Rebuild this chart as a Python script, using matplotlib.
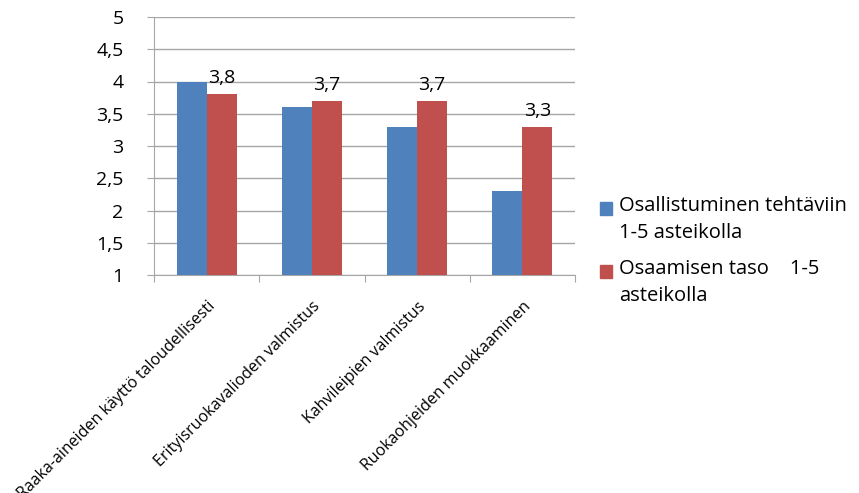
import matplotlib
matplotlib.use('Agg')
import matplotlib.pyplot as plt
import matplotlib.transforms as mtransforms
from matplotlib.patches import Rectangle
import numpy as np

# data
categories = ['Raaka-aineiden käyttö taloudellisesti',
              'Erityisruokavalioden valmistus',
              'Kahvileipien valmistus',
              'Ruokaohjeiden muokkaaminen']
osallistuminen = [4.0, 3.6, 3.3, 2.3]
osaaminen = [3.8, 3.7, 3.7, 3.3]
series_names = ['Osallistuminen tehtäviin\n1-5 asteikolla',
                'Osaamisen taso    1-5\nasteikolla']
yticks = [1, 1.5, 2, 2.5, 3, 3.5, 4, 4.5, 5]
ytick_labels = ['1', '1,5', '2', '2,5', '3', '3,5', '4', '4,5', '5']

blue = '#4F81BD'
red = '#C0504D'
grid_col = '#A6A6A6'

plt.rcParams['font.family'] = ['Open Sans', 'DejaVu Sans']

W, H = 859, 493
fig = plt.figure(figsize=(W / 100, H / 100), dpi=100)
ax = fig.add_axes([154 / W, 1 - 275 / H, (575 - 154) / W, (275 - 17) / H])

x = np.arange(len(categories))
w = 0.286
ax.bar(x - w / 2, np.array(osallistuminen) - 1, w, bottom=1, color=blue, zorder=3)
ax.bar(x + w / 2, np.array(osaaminen) - 1, w, bottom=1, color=red, zorder=3)

# data labels only on the second series
for xi, v in zip(x, osaaminen):
    ax.annotate(f'{v:.1f}'.replace('.', ','), (xi + w / 2, v), xytext=(0, 5),
                textcoords='offset points', ha='center', va='bottom', fontsize=14)

ax.set_xlim(-0.5, len(categories) - 0.5)
ax.set_ylim(1, 5)
ax.set_yticks(yticks)
ax.set_yticklabels(ytick_labels, fontsize=14)
ax.yaxis.grid(True, color=grid_col, linewidth=1, zorder=0)
ax.set_axisbelow(True)

ax.set_xticks(np.arange(len(categories) + 1) - 0.5)
ax.set_xticklabels([])
ax.set_xticks(x, minor=True)
ax.set_xticklabels(categories, minor=True, fontsize=11.5, rotation=45,
                   ha='right', va='center', rotation_mode='anchor')
ax.tick_params(axis='x', which='minor', length=0, pad=21)
ax.tick_params(axis='x', which='major', length=5, color=grid_col)
ax.tick_params(axis='y', length=5, color=grid_col, pad=17)
offset = mtransforms.ScaledTranslation(6 / 100, 0, fig.dpi_scale_trans)
for lbl in ax.get_xticklabels(minor=True):
    lbl.set_transform(lbl.get_transform() + offset)

for s in ['top', 'right']:
    ax.spines[s].set_visible(False)
for s in ['left', 'bottom']:
    ax.spines[s].set_color(grid_col)

# legend drawn by hand to keep the squares beside the first text line
leg_y = [202, 265]
for (name, col), ty in zip(zip(series_names, [blue, red]), leg_y):
    fig.patches.append(Rectangle((600 / W, 1 - (ty + 13) / H), 12 / W, 13 / H,
                                 transform=fig.transFigure, color=col))
    fig.text(619 / W, 1 - (ty - 6) / H, name, fontsize=14.5, va='top', ha='left',
             linespacing=1.45)

fig.savefig('out.png', dpi=100)
